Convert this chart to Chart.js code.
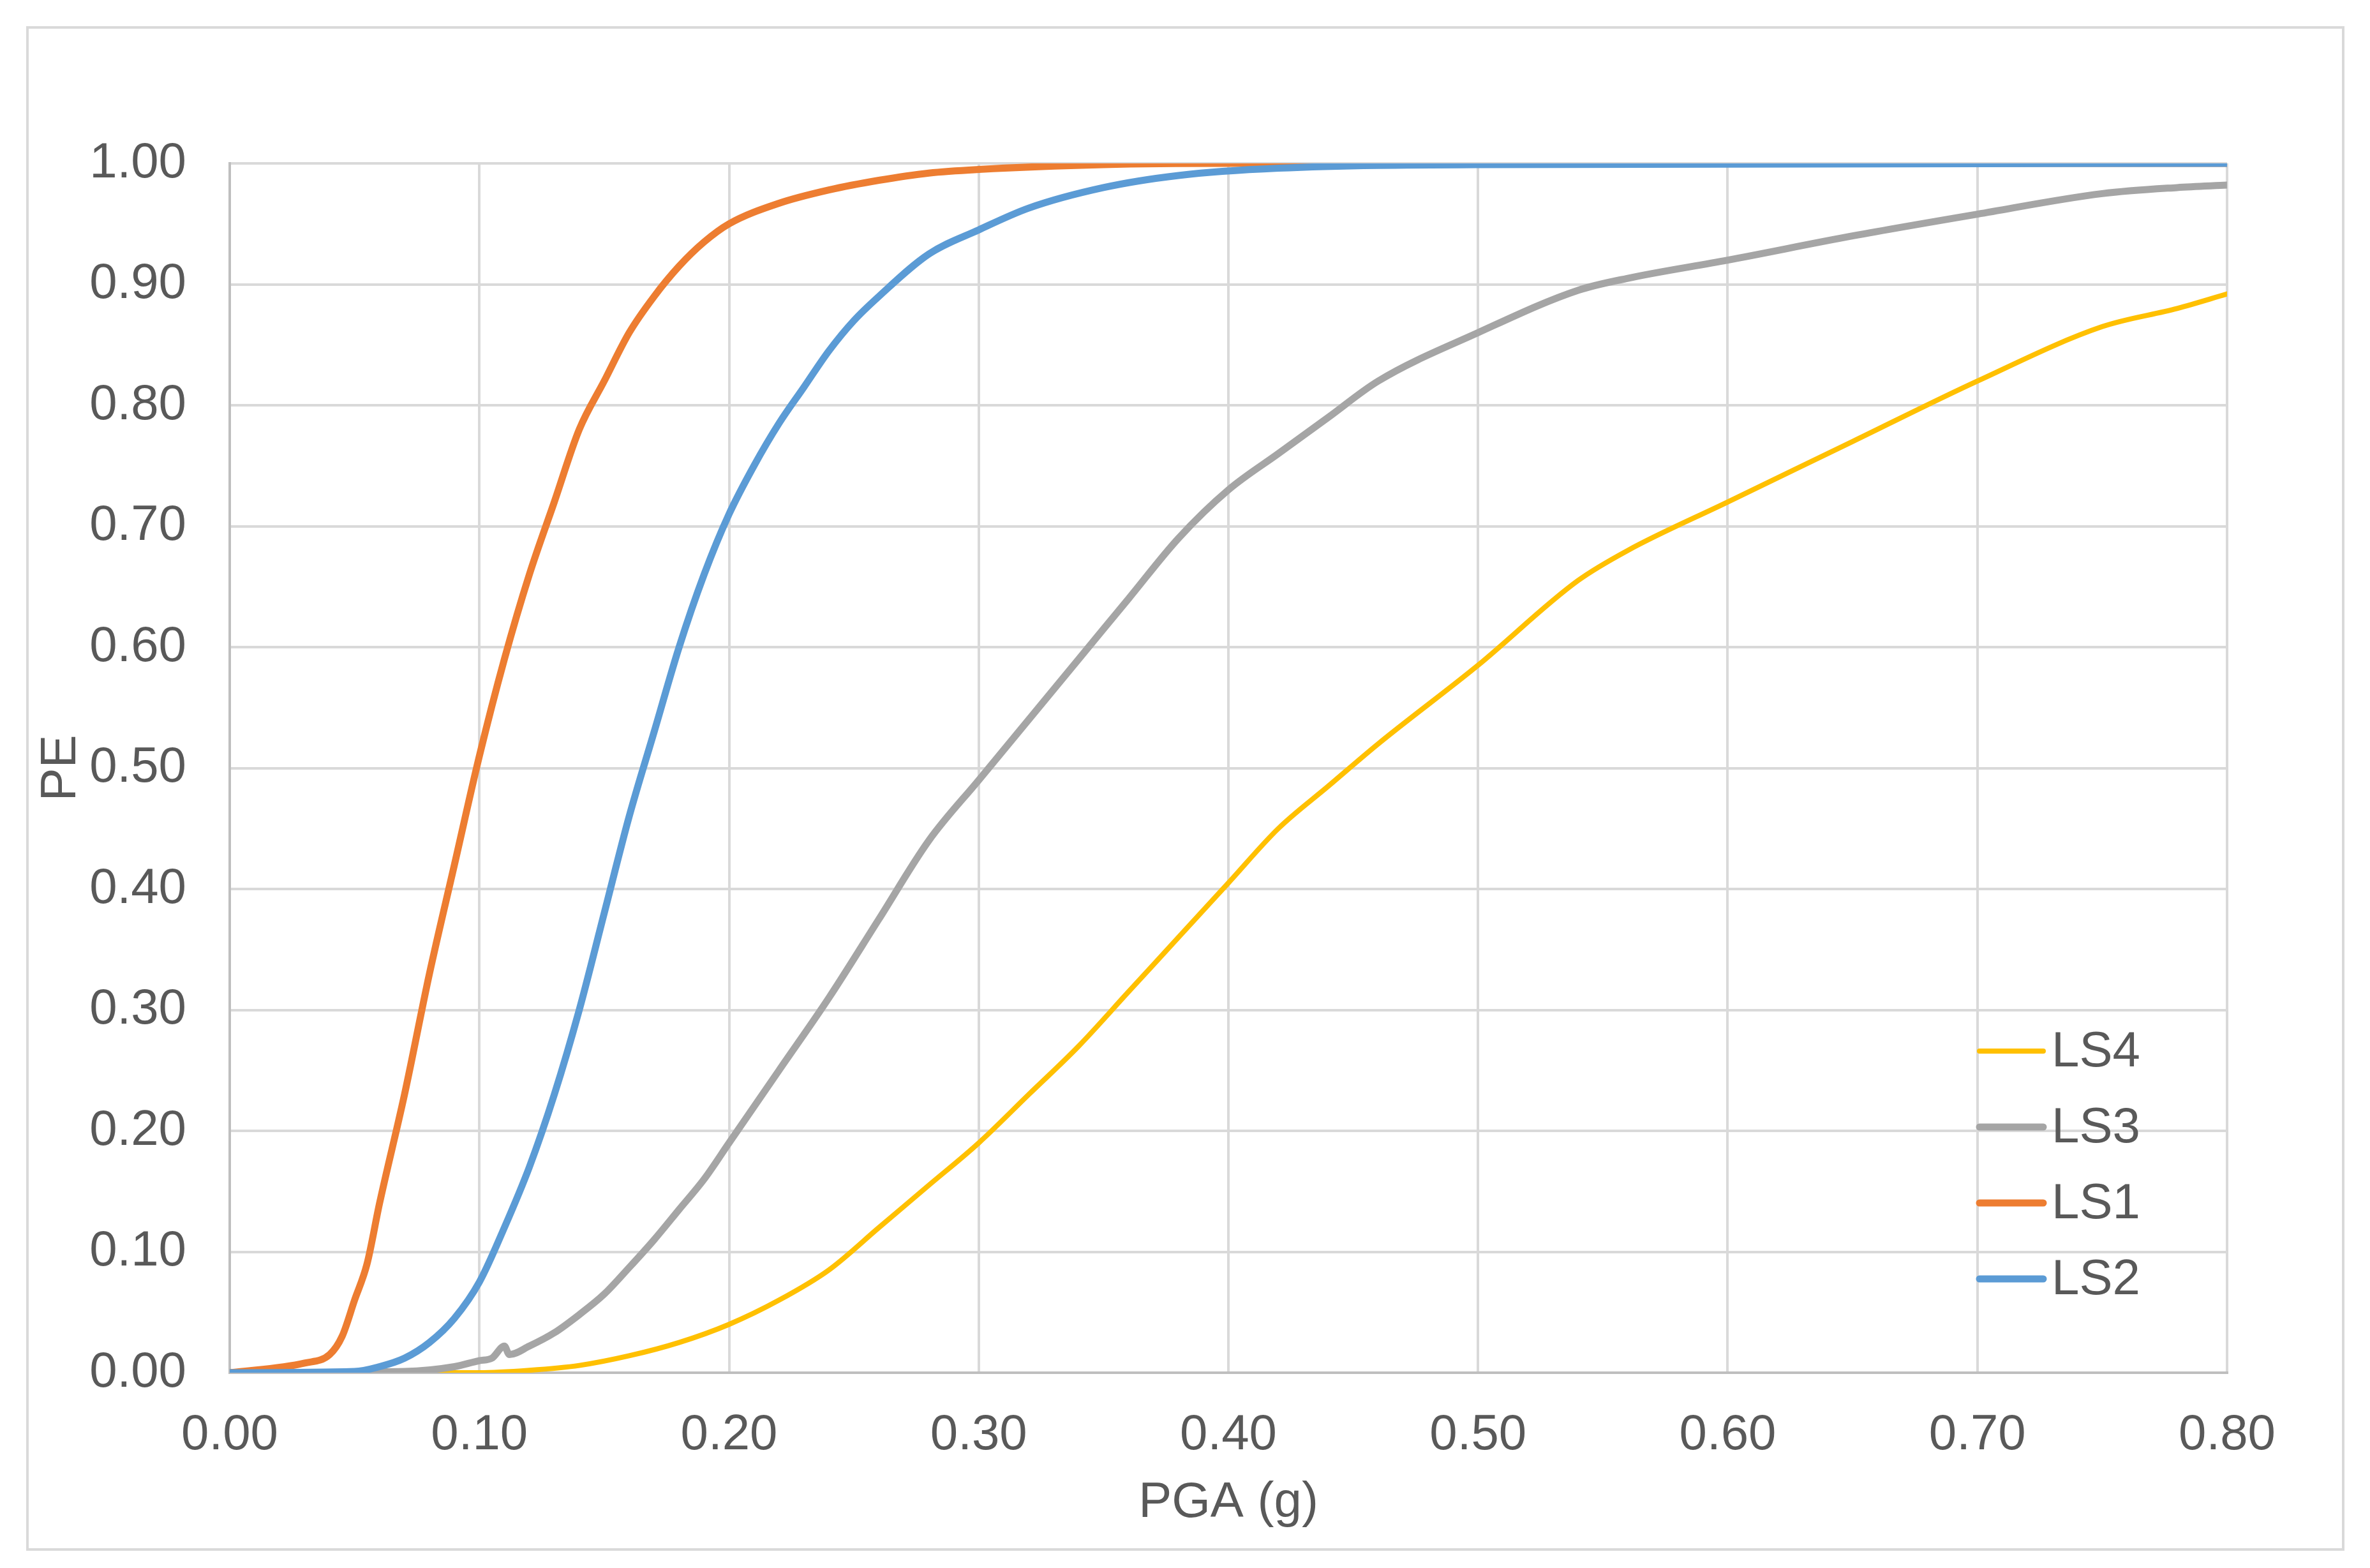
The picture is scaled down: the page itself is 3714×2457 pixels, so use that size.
<!DOCTYPE html>
<html>
<head>
<meta charset="utf-8">
<script src="https://cdn.jsdelivr.net/npm/chart.js@4/dist/chart.umd.min.js"></script>
<style>
  html, body { margin: 0; padding: 0; background: #fff; }
  #wrap { width: 3714px; height: 2457px; }
</style>
</head>
<body>
<div id="wrap"><canvas id="chart"></canvas></div>
<script>
// --- DATOS ---
const seriesNames = ['LS4', 'LS3', 'LS1', 'LS2'];
const seriesColors = ['#FFC000', '#A5A5A5', '#ED7D31', '#5B9BD5'];

const ls1X = [0, 0.03, 0.04, 0.045, 0.05, 0.055, 0.06, 0.07, 0.08, 0.09, 0.10, 0.11, 0.12, 0.13, 0.14, 0.15, 0.16, 0.17, 0.18, 0.19, 0.20, 0.22, 0.24, 0.26, 0.28, 0.30, 0.35, 0.40, 0.80];
const ls1Y = [0, 0.008, 0.015, 0.03, 0.06, 0.09, 0.14, 0.23, 0.33, 0.42, 0.51, 0.59, 0.66, 0.72, 0.78, 0.82, 0.86, 0.89, 0.915, 0.935, 0.95, 0.967, 0.978, 0.986, 0.992, 0.995, 0.999, 1, 1];

const ls2X = [0, 0.05, 0.06, 0.07, 0.08, 0.09, 0.10, 0.11, 0.12, 0.13, 0.14, 0.15, 0.16, 0.17, 0.18, 0.19, 0.20, 0.21, 0.22, 0.23, 0.24, 0.25, 0.26, 0.28, 0.30, 0.32, 0.35, 0.38, 0.42, 0.50, 0.80];
const ls2Y = [0, 0.001, 0.005, 0.012, 0.025, 0.045, 0.075, 0.12, 0.17, 0.23, 0.30, 0.38, 0.46, 0.53, 0.60, 0.66, 0.71, 0.75, 0.785, 0.815, 0.845, 0.87, 0.89, 0.925, 0.945, 0.963, 0.98, 0.99, 0.996, 0.999, 1];

const ls3X = [0, 0.07, 0.09, 0.10, 0.105, 0.11, 0.112, 0.12, 0.13, 0.14, 0.15, 0.16, 0.17, 0.18, 0.19, 0.20, 0.22, 0.24, 0.26, 0.28, 0.30, 0.32, 0.34, 0.36, 0.38, 0.40, 0.42, 0.44, 0.46, 0.50, 0.54, 0.56, 0.60, 0.65, 0.70, 0.75, 0.78, 0.80];
const ls3Y = [0, 0.001, 0.005, 0.01, 0.012, 0.022, 0.015, 0.022, 0.033, 0.048, 0.065, 0.087, 0.11, 0.135, 0.16, 0.19, 0.25, 0.31, 0.375, 0.44, 0.49, 0.54, 0.59, 0.64, 0.69, 0.73, 0.76, 0.79, 0.82, 0.86, 0.895, 0.905, 0.92, 0.94, 0.958, 0.975, 0.98, 0.982];

const ls4X = [0, 0.10, 0.12, 0.14, 0.16, 0.18, 0.20, 0.22, 0.24, 0.26, 0.28, 0.30, 0.32, 0.34, 0.36, 0.38, 0.40, 0.42, 0.44, 0.46, 0.50, 0.54, 0.56, 0.60, 0.65, 0.70, 0.75, 0.78, 0.80];
const ls4Y = [0, 0, 0.002, 0.006, 0.014, 0.025, 0.04, 0.06, 0.085, 0.12, 0.155, 0.19, 0.23, 0.27, 0.315, 0.36, 0.405, 0.45, 0.485, 0.52, 0.585, 0.655, 0.68, 0.72, 0.77, 0.82, 0.865, 0.88, 0.892];

const toPoints = (xs, ys) => xs.map((x, i) => ({ x: x, y: ys[i] }));
const seriesPoints = [toPoints(ls4X, ls4Y), toPoints(ls3X, ls3Y), toPoints(ls1X, ls1Y), toPoints(ls2X, ls2Y)];
const seriesWidths = [8, 11, 11, 11];

const TEXT = '#595959';
const FONT = '"Liberation Sans", Arial, sans-serif';

// --- MARCO Y LEYENDA ---
const framePlugin = {
    id: 'frame',
    beforeDraw(chart) {
        const ctx = chart.ctx;
        ctx.save();
        ctx.fillStyle = '#fff';
        ctx.fillRect(0, 0, chart.width, chart.height);
        ctx.strokeStyle = '#d9d9d9';
        ctx.lineWidth = 4;
        ctx.strokeRect(43, 43, 3629, 2385);
        ctx.restore();
    },
    afterDraw(chart) {
        const ctx = chart.ctx;
        ctx.save();
        ctx.font = '78px ' + FONT;
        ctx.textBaseline = 'middle';
        ctx.lineCap = 'round';
        chart.data.datasets.forEach((ds, i) => {
            const y = 1647 + i * 119;
            ctx.strokeStyle = ds.borderColor;
            ctx.lineWidth = ds.borderWidth;
            ctx.beginPath();
            ctx.moveTo(3102, y);
            ctx.lineTo(3202, y);
            ctx.stroke();
            ctx.fillStyle = TEXT;
            ctx.fillText(ds.label, 3215, y + 2);
        });
        ctx.restore();
    }
};

new Chart(document.getElementById('chart'), {
    type: 'scatter',
    data: {
        datasets: seriesNames.map((name, i) => ({
            label: name,
            data: seriesPoints[i],
            showLine: true,
            borderColor: seriesColors[i],
            backgroundColor: seriesColors[i],
            borderWidth: seriesWidths[i],
            pointRadius: 0,
            cubicInterpolationMode: 'monotone',
            borderCapStyle: 'round',
            order: [3, 2, 1, 0][i]
        }))
    },
    options: {
        responsive: true,
        maintainAspectRatio: false,
        devicePixelRatio: 1,
        animation: false,
        layout: { padding: { left: 0, right: 224, top: 256, bottom: 0 } },
        plugins: { legend: { display: false }, tooltip: { enabled: false } },
        scales: {
            x: {
                type: 'linear', min: 0, max: 0.8,
                afterFit: (s) => { s.height = 306; },
                ticks: { stepSize: 0.1, color: TEXT, font: { family: FONT, size: 78 }, padding: 52,
                         callback: (v) => v.toFixed(2), maxRotation: 0 },
                grid: { color: '#d9d9d9', lineWidth: 4, drawTicks: false },
                border: { color: '#bfbfbf', width: 4 },
                title: { display: true, text: 'PGA (g)', color: TEXT, font: { family: FONT, size: 78 },
                         padding: { top: 0, bottom: 55 } }
            },
            y: {
                min: 0, max: 1,
                afterFit: (s) => { s.width = 360; },
                ticks: { stepSize: 0.1, color: TEXT, font: { family: FONT, size: 78 }, padding: 68,
                         callback: (v) => v.toFixed(2) },
                grid: { color: '#d9d9d9', lineWidth: 4, drawTicks: false },
                border: { color: '#bfbfbf', width: 4 },
                title: { display: true, text: 'PE', color: TEXT, font: { family: FONT, size: 78 },
                         padding: { top: 50, bottom: 0 } }
            }
        }
    },
    plugins: [framePlugin]
});
</script>
</body>
</html>
